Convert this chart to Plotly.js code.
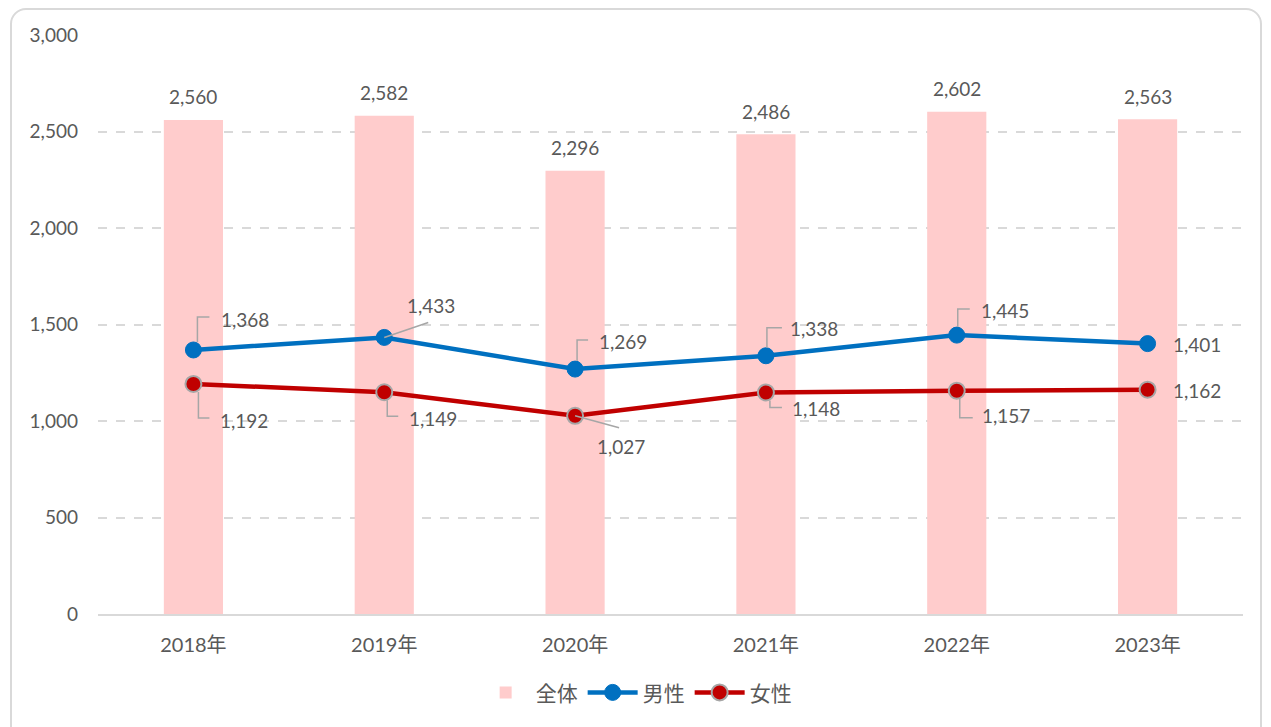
<!DOCTYPE html>
<html>
<head>
<meta charset="utf-8">
<script src="https://cdn.plot.ly/plotly-3.0.1.min.js"></script>
<style>
html,body{margin:0;padding:0;background:#fff;}
#frame{position:absolute;left:10px;top:8px;width:1252px;height:740px;border:2px solid #d9d9d9;border-radius:16px;box-sizing:border-box;}
#chart{position:absolute;left:0;top:0;width:1271px;height:727px;}
</style>
</head>
<body>
<div id="frame"></div>
<div id="chart"></div>
<script>
const categories = ['2018年','2019年','2020年','2021年','2022年','2023年'];
const totalValues = [2560, 2582, 2296, 2486, 2602, 2563];
const maleValues = [1368, 1433, 1269, 1338, 1445, 1401];
const femaleValues = [1192, 1149, 1027, 1148, 1157, 1162];
const seriesNames = ['全体', '男性', '女性'];
const yTicks = [0, 500, 1000, 1500, 2000, 2500, 3000];

// label placement (pixel offsets from point, up positive) - styling only
const maleLabelOffsets = [[52,30],[47,32],[48,28],[48,27],[48,25],[49,-1]];
const femaleLabelOffsets = [[51,-37],[49,-26],[46,-31],[50,-16],[49,-25],[49,-1]];
// leader lines: [startX,startY,bendX,bendY,endX,endY] or null
const maleLeaders = [[4,8,4,33,16,33],[0,0,44,15,44,15],[2,8,2,29,13,29],[1,8,1,28,16,28],[1,8,1,26,13,26],null];
const femaleLeaders = [[5,-8,5,-34,16,-34],[3,-8,3,-24,14,-24],[0,0,44,-12,44,-12],[4,-8,4,-15,16,-15],[3,-8,3,-27,16,-27],null];

const FONT = "Lato, 'Noto Sans CJK JP', sans-serif";
const TXT = '#595959';
const LBL = 19;
const fmt = v => v.toLocaleString('en-US');

const traces = [
  {type:'bar', x:categories, y:totalValues, name:seriesNames[0], width:0.31,
   marker:{color:'#ffcccc'}, hoverinfo:'skip'},
  {type:'scatter', mode:'lines+markers', x:categories, y:maleValues, name:seriesNames[1],
   line:{color:'#0070c0', width:4.5}, marker:{color:'#0070c0', size:16, line:{color:'#0070c0', width:1}}, hoverinfo:'skip'},
  {type:'scatter', mode:'lines+markers', x:categories, y:femaleValues, name:seriesNames[2],
   line:{color:'#c00000', width:4.5}, marker:{color:'#c00000', size:16, line:{color:'#a6a6a6', width:2}}, hoverinfo:'skip'}
];

const annotations = [];
const shapes = [];
categories.forEach((c,i) => {
  annotations.push({x:c, y:totalValues[i], text:fmt(totalValues[i]), showarrow:false, yshift:23,
    font:{family:FONT, size:LBL, color:TXT}});
  annotations.push({x:c, y:maleValues[i], text:fmt(maleValues[i]), showarrow:false,
    xshift:maleLabelOffsets[i][0], yshift:maleLabelOffsets[i][1], font:{family:FONT, size:LBL, color:TXT}});
  annotations.push({x:c, y:femaleValues[i], text:fmt(femaleValues[i]), showarrow:false,
    xshift:femaleLabelOffsets[i][0], yshift:femaleLabelOffsets[i][1], font:{family:FONT, size:LBL, color:TXT}});
  [[maleLeaders[i], maleValues[i]], [femaleLeaders[i], femaleValues[i]]].forEach(([p, v]) => {
    if (!p) return;
    shapes.push({type:'path', xref:'x', yref:'y', xsizemode:'pixel', ysizemode:'pixel',
      xanchor:i, yanchor:v,
      path:`M${p[0]},${p[1]} L${p[2]},${p[3]} L${p[4]},${p[5]}`,
      line:{color:'#a6a6a6', width:1.5}, layer:'above'});
  });
});

const layout = {
  width:1271, height:727,
  margin:{l:98, r:28, t:35, b:113},
  paper_bgcolor:'rgba(0,0,0,0)', plot_bgcolor:'rgba(0,0,0,0)',
  font:{family:FONT, size:18, color:TXT},
  separators:'.,',
  showlegend:true,
  legend:{orientation:'h', x:0.47, xanchor:'center', y:-0.136, yanchor:'middle',
    font:{family:FONT, size:21, color:TXT}, itemwidth:50, traceorder:'normal'},
  xaxis:{type:'category', showgrid:false, showline:true, linecolor:'#d9d9d9', linewidth:1.5,
    ticks:'', tickfont:{family:FONT, size:20, color:TXT}, ticklabelstandoff:12, fixedrange:true},
  yaxis:{range:[0,3000], tickvals:yTicks, ticktext:yTicks.map(fmt), showgrid:true,
    gridcolor:'#d9d9d9', gridwidth:2, griddash:'dash', zeroline:false, showline:false,
    ticks:'', tickfont:{family:FONT, size:19, color:TXT}, ticklabelstandoff:19, fixedrange:true},
  annotations:annotations,
  shapes:shapes,
  bargap:0.69
};

Plotly.newPlot('chart', traces, layout, {displayModeBar:false, staticPlot:true});
</script>
</body>
</html>
